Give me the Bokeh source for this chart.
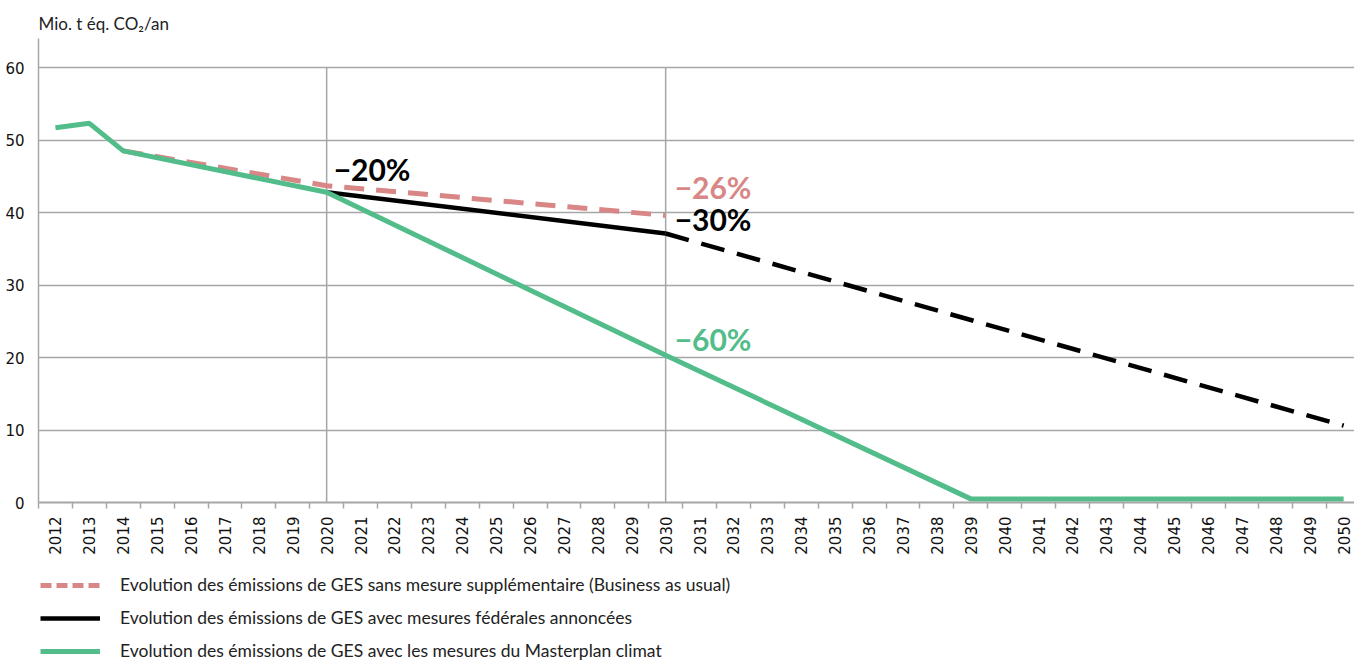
import math
from bokeh.plotting import figure
from bokeh.layouts import column
from bokeh.models import Range1d, FixedTicker, Legend, LegendItem, Label, ColumnDataSource
from bokeh.embed import file_html
from bokeh.resources import INLINE

# ---------------- data ----------------
years = ["2012", "2013", "2014", "2015", "2016", "2017", "2018", "2019", "2020",
         "2021", "2022", "2023", "2024", "2025", "2026", "2027", "2028", "2029",
         "2030", "2031", "2032", "2033", "2034", "2035", "2036", "2037", "2038",
         "2039", "2040", "2041", "2042", "2043", "2044", "2045", "2046", "2047",
         "2048", "2049", "2050"]

bau_years = ["2014", "2020", "2030"]
bau_values = [48.5, 43.7, 39.6]

fed_years = ["2020", "2030"]
fed_values = [42.8, 37.1]

fed_proj_years = ["2030", "2050"]
fed_proj_values = [37.1, 10.6]

mp_years = ["2012", "2013", "2014", "2020", "2030", "2039", "2050"]
mp_values = [51.7, 52.3, 48.5, 42.8, 20.3, 0.5, 0.5]

ref_years = ["2020", "2030"]
ref_top = [60, 60]

y_ticks = [0, 10, 20, 30, 40, 50, 60]

legend_labels = [
    "Evolution des émissions de GES sans mesure supplémentaire (Business as usual)",
    "Evolution des émissions de GES avec mesures fédérales annoncées",
    "Evolution des émissions de GES avec les mesures du Masterplan climat",
]

pct_years = ["2020", "2030", "2030", "2030"]
pct_values = [46.0, 43.5, 39.1, 22.6]
pct_labels = ["−20%", "−26%", "−30%", "−60%"]

title_text = "Mio. t éq. CO₂/an"

# ---------------- styles ----------------
PINK = "#D98686"
GREEN = "#52BD8A"
BLACK = "#000000"
GRAY = "#A6A6A6"
pct_colors = [BLACK, PINK, BLACK, GREEN]

BAU_STYLE = dict(line_color=PINK, line_width=5, line_dash="20 12")
FED_STYLE = dict(line_color=BLACK, line_width=4.5)
MP_STYLE = dict(line_color=GREEN, line_width=5)


def idx(lst):
    return [years.index(y) for y in lst]


p = figure(width=1354, height=560, output_backend="svg", toolbar_location=None,
           x_range=Range1d(-0.5, 38.32), y_range=Range1d(0, 64),
           min_border_left=38, min_border_right=0, min_border_top=38,
           min_border_bottom=58)
p.outline_line_color = None
p.background_fill_color = "white"

p.title.text = title_text
p.title.text_font = "Lato"
p.title.text_font_size = "17px"
p.title.text_font_style = "normal"
p.title.text_color = "#222222"
p.title.align = "left"
p.title.standoff = 10

# axes
p.xaxis.ticker = FixedTicker(ticks=list(range(len(years))),
                             minor_ticks=[k - 0.5 for k in range(len(years) + 1)])
p.xaxis.major_label_overrides = {i: y for i, y in enumerate(years)}
p.xaxis.major_label_orientation = math.pi / 2
p.xaxis.major_tick_line_color = None
p.xaxis.major_tick_out = 0
p.xaxis.major_tick_in = 0
p.xaxis.minor_tick_line_color = GRAY
p.xaxis.minor_tick_line_width = 1.5
p.xaxis.minor_tick_out = 6
p.xaxis.minor_tick_in = 0
p.xaxis.axis_line_color = GRAY
p.xaxis.axis_line_width = 2
p.xaxis.major_label_text_font = "DejaVu Sans"
p.xaxis.major_label_text_font_size = "15px"
p.xaxis.major_label_text_color = "#111111"
p.xaxis.major_label_standoff = 8

p.yaxis.ticker = FixedTicker(ticks=y_ticks)
p.yaxis.major_tick_line_color = None
p.yaxis.minor_tick_line_color = None
p.yaxis.axis_line_color = GRAY
p.yaxis.axis_line_width = 1.5
p.yaxis.major_label_text_font = "DejaVu Sans"
p.yaxis.major_label_text_font_size = "15px"
p.yaxis.major_label_text_color = "#111111"
p.yaxis.major_label_standoff = 8

p.xgrid.grid_line_color = None
p.ygrid.grid_line_color = GRAY
p.ygrid.grid_line_width = 1.5

# reference vertical lines
ref_src = ColumnDataSource(dict(x=idx(ref_years), y0=[0] * len(ref_years), y1=ref_top))
p.segment(x0="x", y0="y0", x1="x", y1="y1", source=ref_src, line_color=GRAY, line_width=1.5)

# series
p.line(idx(bau_years), bau_values, **BAU_STYLE)
p.line(idx(fed_years), fed_values, **FED_STYLE)
p.line(idx(fed_proj_years), fed_proj_values, line_color=BLACK, line_width=4.5,
       line_dash="24 13")
p.line(idx(mp_years), mp_values, **MP_STYLE)

# percentage labels
for yr, v, t, c in zip(pct_years, pct_values, pct_labels, pct_colors):
    p.add_layout(Label(x=years.index(yr), y=v, text=t, x_offset=7 if yr == "2020" else 9,
                       text_font="Lato", text_font_style="bold", text_font_size="30px",
                       text_color=c, text_baseline="alphabetic"))

# ---------------- legend panel ----------------
lg = figure(width=1354, height=101, output_backend="svg", toolbar_location=None,
            x_axis_type=None, y_axis_type=None,
            x_range=Range1d(0, 1), y_range=Range1d(0, 1),
            min_border_left=0, min_border_right=0, min_border_top=0, min_border_bottom=0)
lg.outline_line_color = None
lg.xgrid.grid_line_color = None
lg.ygrid.grid_line_color = None

# legend swatches: the same series, placed outside the (empty) view of this panel
k_bau = lg.line(idx(bau_years), [-v for v in bau_values], line_color=PINK, line_width=5,
                line_dash="11 5")
k_fed = lg.line(idx(fed_years), [-v for v in fed_values], **FED_STYLE)
k_mp = lg.line(idx(mp_years), [-v - 1 for v in mp_values], **MP_STYLE)

legend = Legend(items=[LegendItem(label=legend_labels[0], renderers=[k_bau]),
                       LegendItem(label=legend_labels[1], renderers=[k_fed]),
                       LegendItem(label=legend_labels[2], renderers=[k_mp])],
                location=(2, 0), orientation="vertical",
                glyph_width=60, glyph_height=20, label_height=20, spacing=12,
                label_standoff=20, padding=0, margin=0,
                border_line_color=None, background_fill_alpha=0,
                label_text_font="Lato", label_text_font_size="17.5px",
                label_text_color="#222222")
lg.add_layout(legend)

layout = column(p, lg, spacing=0)
open("out.html", "w").write(file_html(layout, INLINE))
